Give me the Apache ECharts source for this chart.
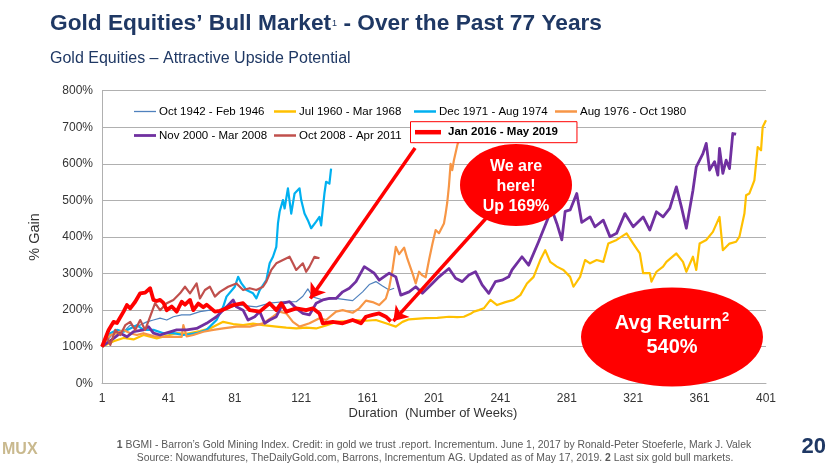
<!DOCTYPE html>
<html>
<head>
<meta charset="utf-8">
<script src="https://cdn.jsdelivr.net/npm/echarts@6/dist/echarts.min.js"></script>
<style>html,body{margin:0;padding:0;background:#fff}#c{width:830px;height:467px}</style>
</head>
<body>
<div id="c"></div>
<script>
// ---------- data ----------
const seriesNames = ['Oct 1942 - Feb 1946','Jul 1960 - Mar 1968','Dec 1971 - Aug 1974','Aug 1976 - Oct 1980','Nov 2000 - Mar 2008','Oct 2008 - Apr 2011','Jan 2016 - May 2019'];

const weeks1942 = [1,6,10,14,18,22,28,32,36,40,44,49,54,60,66,72,76,84,94,102,110,118,122,125,128,134,142,152,158,162,166,170,174,177];
const gain1942  = [100,127,146,141,159,155,168,173,178,173,182,187,187,196,200,196,205,214,209,219,223,223,238,258,236,228,232,226,250,270,278,266,255,260];

const weeks1960 = [1,8,14,20,26,34,40,46,52,60,66,74,80,86,92,98,106,112,118,124,130,136,142,148,154,160,166,172,178,182,186,190,196,203,210,215,219,223,225,228,231,235,239,244,249,253,257,261,265,268,271,275,279,283,285,289,292,295,299,303,306,311,317,321,325,327,331,332,335,339,341,347,351,353,357,359,361,365,369,373,375,379,383,385,388,389,391,394,396,398,399,401];
const gain1960  = [100,115,124,120,132,123,130,137,135,143,150,168,162,159,163,159,155,152,150,152,150,158,168,170,173,171,173,164,155,168,175,176,178,179,182,181,182,190,196,200,205,228,214,222,228,241,273,291,337,364,332,319,310,291,264,291,337,328,337,332,382,392,410,382,355,301,301,278,305,319,332,355,332,305,346,310,382,392,414,455,364,382,387,401,464,514,519,555,646,637,701,719];

const weeks1971 = [1,6,10,14,18,22,26,32,38,44,50,58,64,70,74,76,81,83,85,88,92,94,96,100,102,104,106,107,108,110,111,113,115,117,120,121,123,125,127,130,132,133,135,136,138,139];
const gain1971  = [100,137,146,141,150,159,146,146,137,137,132,137,146,173,209,237,264,291,273,255,246,232,255,282,328,346,373,437,469,501,478,533,464,519,533,501,464,446,424,442,455,432,519,551,546,587];

const weeks1976 = [1,6,10,14,18,22,26,32,38,44,49,50,52,56,62,68,74,82,90,98,104,108,112,116,120,126,132,136,142,146,152,156,160,164,168,172,174,176,178,180,183,185,188,190,192,194,196,198,200,202,204,207,208,209,210,211,212,213,215,218];
const gain1976  = [100,132,137,146,137,132,137,129,127,127,127,159,128,132,141,146,150,155,155,164,182,196,191,168,155,164,178,173,196,200,193,205,226,222,214,232,262,310,373,353,371,340,301,273,305,295,290,337,380,419,410,437,464,495,540,600,583,610,650,700];

const weeks2000 = [1,8,12,16,20,26,29,32,36,40,46,52,58,64,70,76,80,82,86,89,93,96,99,102,106,110,114,118,122,126,130,134,138,142,146,150,154,159,162,165,168,174,178,181,186,190,194,200,204,210,214,218,222,226,230,234,238,242,246,248,254,258,264,270,272,275,278,280,283,287,290,295,298,303,307,311,316,321,327,331,335,339,343,347,350,353,357,359,363,365,367,370,372,373,375,377,379,381,383];
const gain2000  = [100,123,137,127,141,146,155,137,132,138,146,146,150,164,182,209,228,209,200,173,182,196,164,173,182,219,223,205,191,187,219,228,232,232,250,260,278,319,310,301,282,301,291,241,250,264,246,273,291,314,287,278,296,305,269,246,278,282,291,310,346,323,387,455,475,437,392,470,474,519,440,455,428,446,401,410,464,428,455,419,469,455,478,537,483,424,528,592,628,656,583,606,569,642,574,610,587,683,681];

const weeks2008 = [1,4,6,9,12,15,18,21,24,27,30,33,36,40,44,48,51,54,58,60,63,66,69,72,77,82,86,90,94,98,100,103,106,110,114,116,118,122,124,126,129,132];
const gain2008  = [100,127,105,146,132,159,168,146,173,146,182,219,200,219,228,246,264,246,273,232,255,264,237,250,264,273,255,260,255,264,278,310,328,337,346,328,310,328,305,319,346,342];

const weeks2016 = [1,5,8,10,14,16,18,21,24,27,30,32,34,36,38,40,43,46,49,51,54,56,59,62,64,69,72,76,80,86,90,96,102,106,109,112,118,124,128,132,134,140,146,152,157,160,164,168,172,175];
const gain2016  = [100,146,168,165,196,214,205,223,246,248,260,228,225,228,220,200,210,196,223,215,228,200,218,208,215,196,198,205,214,219,200,196,219,200,219,196,205,200,205,191,164,168,164,173,164,182,187,191,182,169];

const xTickLabels = [1,41,81,121,161,201,241,281,321,361,401];

// annotation arrows (data space: [week, gain])
const arrowCoords = [
  [[189.6,643],[126.5,232]],
  [[232.9,454],[176.5,170]]
];

// ---------- styling ----------
const FF = 'Liberation Sans, Arial, sans-serif';
const colors = ['#4F81BD','#FFC000','#00B0F0','#F79646','#7030A0','#C0504D','#FF0000'];
const widths = [1.2,2.2,2.2,2.2,2.8,2.2,3.8];
const allWeeks = [weeks1942,weeks1960,weeks1971,weeks1976,weeks2000,weeks2008,weeks2016];
const allGains = [gain1942,gain1960,gain1971,gain1976,gain2000,gain2008,gain2016];
const legendPos = [[134,105.5],[274,105.5],[414,105.5],[555,105.5],[134,129.5],[274,129.5],[410.5,121.7]];
const legendIconH = [1.3,2.5,2.5,2.5,2.8,2.5,4.5];

const series = seriesNames.map((n,i)=>{
  const s = {
    type:'line', name:n, symbol:'none', showSymbol:false, smooth:false,
    data: allWeeks[i].map((w,k)=>[w, allGains[i][k]]),
    lineStyle:{color:colors[i], width:widths[i], join:'round'},
    itemStyle:{color:colors[i]},
    emphasis:{disabled:true}, z:2+i*0.01
  };
  if (i===6) {
    s.markLine = {
      silent:true, symbol:['none','arrow'], symbolSize:14, animation:false,
      lineStyle:{color:'#FF0000', width:3.5, type:'solid'},
      label:{show:false}, emphasis:{disabled:true},
      data: arrowCoords.map(a=>[{coord:a[0]},{coord:a[1]}])
    };
  }
  return s;
});

const legends = seriesNames.map((n,i)=>{
  const red = i===6;
  return {
    data:[n], left:legendPos[i][0], top:legendPos[i][1], orient:'horizontal',
    padding: red ? [4.5,19,4.5,4.5] : 0,
    icon:'rect',
    itemWidth: red ? 26 : 22, itemHeight: legendIconH[i], itemGap: 0,
    selectedMode:false,
    backgroundColor: red ? '#fff' : 'transparent',
    borderColor: red ? '#FF0000' : 'transparent', borderWidth: red ? 1 : 0,
    itemStyle:{borderWidth:0},
    textStyle:{fontFamily:FF, fontSize:11.5, color:'#000', fontWeight: red ? 'bold':'normal', padding: red ? [0,0,0,2] : [0,0,0,-2]},
    z: 10
  };
});

const chart = echarts.init(document.getElementById('c'), null, {renderer:'canvas'});
chart.setOption({
  animation:false,
  backgroundColor:'#fff',
  grid:{left:102, right:64, top:90.7, bottom:83.7, containLabel:false},
  xAxis:{
    type:'value', min:1, max:401,
    axisLine:{show:true, lineStyle:{color:'#B0B0B0', width:1}},
    axisTick:{show:false, customValues:xTickLabels},
    axisLabel:{customValues:xTickLabels, fontFamily:FF, fontSize:12, color:'#333', margin:9},
    splitLine:{show:false}
  },
  yAxis:{
    type:'value', min:0, max:800, interval:100,
    axisLine:{show:true, lineStyle:{color:'#B0B0B0', width:1}},
    axisTick:{show:false},
    axisLabel:{formatter:'{value}%', fontFamily:FF, fontSize:12, color:'#333', margin:9},
    splitLine:{show:true, lineStyle:{color:'#B0B0B0', width:1}}
  },
  legend: legends,
  series: series,
  graphic: [
    {type:'text', left:50, top:12, z:100, style:{
      text:'{t|Gold Equities\u2019 Bull Market}{s|1}{t| - Over the Past 77 Years}',
      rich:{t:{fontFamily:FF, fontSize:22.7, fontWeight:'bold', fill:'#1F3864'},
            s:{fontFamily:FF, fontSize:9, fill:'#1F3864', verticalAlign:'top', padding:[7,0,0,1]}}
    }},
    {type:'text', left:50, top:51, z:100, style:{text:'Gold Equities \u2013 Attractive Upside Potential', fontFamily:FF, fontSize:16, fill:'#1F3864'}},
    {type:'text', x:35, y:237, rotation:Math.PI/2, z:100, style:{text:'% Gain', fontFamily:FF, fontSize:14.5, fill:'#333', align:'center', verticalAlign:'middle'}},
    {type:'text', x:433, y:413, z:100, style:{text:'Duration  (Number of Weeks)', fontFamily:FF, fontSize:13, fill:'#333', align:'center', verticalAlign:'middle'}},
    {type:'ellipse', z:100, shape:{cx:516, cy:185, rx:56, ry:41}, style:{fill:'#FF0000'}},
    {type:'text', x:516, y:187, z:101, style:{text:'We are\nhere!\nUp 169%', fontFamily:FF, fontSize:16, fontWeight:'bold', fill:'#fff', align:'center', verticalAlign:'middle', lineHeight:20}},
    {type:'ellipse', z:100, shape:{cx:672, cy:337, rx:91, ry:49.5}, style:{fill:'#FF0000'}},
    {type:'text', x:672, y:335, z:101, style:{
      text:'{a|Avg Return}{s|2}\n{a|540%}', align:'center', verticalAlign:'middle',
      rich:{a:{fontFamily:FF, fontSize:20, fontWeight:'bold', fill:'#fff', lineHeight:24},
            s:{fontFamily:FF, fontSize:13, fontWeight:'bold', fill:'#fff', verticalAlign:'top', lineHeight:14}}
    }},
    {type:'text', x:434, y:445, z:100, style:{
      text:'{b|1} BGMI - Barron\u2019s Gold Mining Index. Credit: in gold we trust .report. Incrementum. June 1, 2017 by Ronald-Peter Stoeferle, Mark J. Valek',
      align:'center', verticalAlign:'middle', fontFamily:FF, fontSize:10.4, fill:'#595959',
      rich:{b:{fontFamily:FF, fontSize:10.4, fontWeight:'bold', fill:'#595959'}}
    }},
    {type:'text', x:435, y:458, z:100, style:{
      text:'Source: Nowandfutures, TheDailyGold.com, Barrons, Incrementum AG. Updated as of May 17, 2019. {b|2} Last six gold bull markets.',
      align:'center', verticalAlign:'middle', fontFamily:FF, fontSize:10.4, fill:'#595959',
      rich:{b:{fontFamily:FF, fontSize:10.4, fontWeight:'bold', fill:'#595959'}}
    }},
    {type:'text', x:2, y:450, z:100, style:{text:'MUX', fontFamily:FF, fontSize:16, fontWeight:'bold', fill:'#C9B98E', align:'left', verticalAlign:'middle'}},
    {type:'text', x:826, y:447, z:100, style:{text:'20', fontFamily:FF, fontSize:22, fontWeight:'bold', fill:'#1F3864', align:'right', verticalAlign:'middle'}}
  ]
});
</script>
</body>
</html>
